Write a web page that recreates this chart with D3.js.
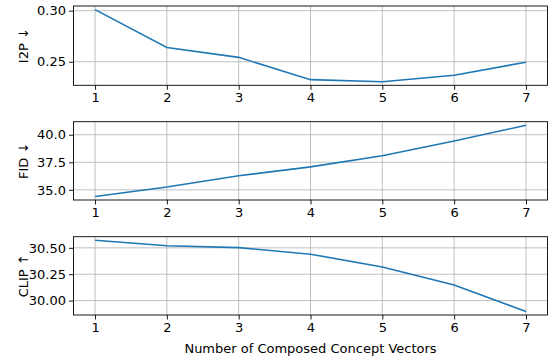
<!DOCTYPE html>
<html>
<head>
<meta charset="utf-8">
<script src="https://cdn.jsdelivr.net/npm/d3@7"></script>
<style>
  body { margin: 0; background: #fff; }
  text { font-family: "DejaVu Sans", sans-serif; fill: #000; }
  .grid line { stroke: #b0b0b0; stroke-width: 0.8; }
  .line { fill: none; stroke: #1f77b4; stroke-width: 1.6; }
</style>
</head>
<body>
<div id="chart"></div>
<script>
var vectors = [1, 2, 3, 4, 5, 6, 7];
var i2p = [0.301, 0.264, 0.2543, 0.2325, 0.2305, 0.2368, 0.2496];
var fid = [34.4, 35.25, 36.28, 37.08, 38.09, 39.43, 40.86];
var clip = [30.572, 30.52, 30.502, 30.44, 30.318, 30.147, 29.897];

var i2pTicks = [0.25, 0.30];
var fidTicks = [35.0, 37.5, 40.0];
var clipTicks = [30.00, 30.25, 30.50];

var W = 548, H = 356;
var svg = d3.select("#chart").append("svg")
    .attr("width", W)
    .attr("height", H);

var left = 73.5, right = 547.5;
var fs = "13px";

var x = d3.scaleLinear().domain([0.7, 7.3]).range([left, right]);

function panel(values, ticks, fmt, label, top, bottom) {
	var ext = d3.extent(values);
	var pad = (ext[1] - ext[0]) * 0.05;
	var y = d3.scaleLinear().domain([ext[0] - pad, ext[1] + pad]).range([bottom, top]);

	var g = svg.append("g");

	// grid
	var grid = g.append("g").attr("class", "grid");
	grid.selectAll(".gx").data(vectors).enter().append("line")
	    .attr("x1", function(d) { return x(d); })
	    .attr("x2", function(d) { return x(d); })
	    .attr("y1", top).attr("y2", bottom);
	grid.selectAll(".gy").data(ticks).enter().append("line")
	    .attr("x1", left).attr("x2", right)
	    .attr("y1", function(d) { return y(d); })
	    .attr("y2", function(d) { return y(d); });

	var line = d3.line()
	    .x(function(d, i) { return x(vectors[i]); })
	    .y(function(d) { return y(d); });

	g.append("path")
	    .datum(values)
	    .attr("class", "line")
	    .attr("d", line);

	g.append("rect")
	    .attr("x", left).attr("y", top)
	    .attr("width", right - left).attr("height", bottom - top)
	    .attr("fill", "none").attr("stroke", "#000").attr("stroke-width", 0.9);

	var ax = g.append("g")
	    .attr("transform", "translate(0," + bottom + ")")
	    .call(d3.axisBottom(x).tickValues(vectors).tickSize(4.5).tickPadding(3).tickFormat(d3.format("d")));
	var ay = g.append("g")
	    .attr("transform", "translate(" + left + ",0)")
	    .call(d3.axisLeft(y).tickValues(ticks).tickSize(4.5).tickPadding(3).tickFormat(d3.format(fmt)));
	[ax, ay].forEach(function(a) {
		a.select(".domain").remove();
		a.selectAll(".tick line").attr("stroke", "#000").attr("stroke-width", 0.9);
		a.selectAll("text").style("font-size", fs).style("font-family", "DejaVu Sans, sans-serif").attr("fill", "#000");
	});

	svg.append("text")
	    .attr("transform", "translate(27.5," + ((top + bottom) / 2) + ") rotate(-90)")
	    .attr("text-anchor", "middle")
	    .style("font-size", fs)
	    .text(label);
}

panel(i2p, i2pTicks, ".2f", "I2P \u2193", 6, 85.3);
panel(fid, fidTicks, ".1f", "FID \u2193", 121.7, 200);
panel(clip, clipTicks, ".2f", "CLIP \u2191", 236.7, 315);

svg.append("text")
    .attr("x", (left + right) / 2)
    .attr("y", 353)
    .attr("text-anchor", "middle")
    .style("font-size", fs)
    .text("Number of Composed Concept Vectors");
</script>
</body>
</html>
